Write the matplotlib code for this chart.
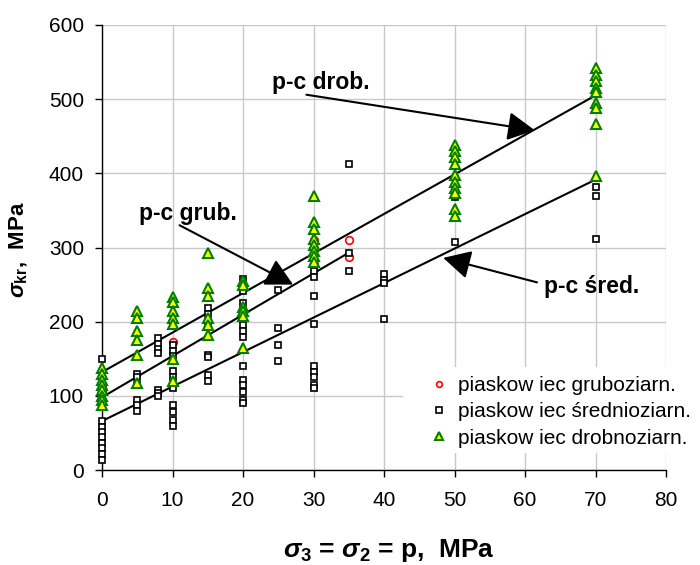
import matplotlib
matplotlib.use("Agg")
import matplotlib.pyplot as plt
from matplotlib.patches import Rectangle
import numpy as np

plt.rcParams['font.family'] = ['Liberation Sans', 'DejaVu Sans']
plt.rcParams['mathtext.fontset'] = 'custom'
plt.rcParams['mathtext.rm'] = 'Liberation Sans:bold'
plt.rcParams['mathtext.it'] = 'Liberation Sans:bold:italic'
plt.rcParams['mathtext.bf'] = 'Liberation Sans:bold'

# ---- data ----
grub_x = [0, 0, 10, 30, 30, 30, 35, 35]
grub_y = [105, 112, 172, 310, 300, 278, 310, 287]

sred_x = ([0] * 9 + [5] * 6 + [8] * 7 + [10] * 10 + [15] * 7 + [20] * 13 +
          [25] * 5 + [30] * 9 + [35] * 3 + [40] * 4 + [50] * 2 + [70] * 3)
sred_y = [149, 66, 58, 51, 44, 37, 29, 21, 14,
          130, 125, 115, 95, 87, 80,
          178, 170, 163, 158, 108, 104, 100,
          168, 160, 154, 133, 125, 110, 88, 78, 68, 60,
          218, 210, 200, 155, 152, 128, 120,
          257, 242, 225, 215, 195, 188, 180, 140, 122, 115, 105, 95, 90,
          265, 243, 192, 168, 147,
          268, 260, 234, 197, 140, 132, 125, 115, 110,
          412, 293, 268,
          264, 256, 252, 203,
          368, 307,
          381, 370, 312]

drob_x = ([0] * 8 + [5] * 6 + [10] * 7 + [15] * 6 + [20] * 6 + [30] * 8 +
          [50] * 10 + [70] * 9)
drob_y = [138, 130, 122, 115, 108, 100, 95, 87,
          215, 205, 188, 175, 155, 117,
          233, 226, 215, 205, 197, 150, 120,
          292, 245, 234, 205, 195, 182,
          255, 250, 220, 215, 208, 165,
          370, 335, 325, 312, 303, 295, 288, 280,
          438, 430, 422, 413, 398, 388, 380, 374, 352, 342,
          542, 532, 525, 515, 510, 495, 488, 467, 397]

legend_labels = ['piaskow iec gruboziarn.', 'piaskow iec średnioziarn.',
                 'piaskow iec drobnoziarn.']

# trend lines: drob, grub, sred
trend_names = ['p-c drob.', 'p-c grub.', 'p-c śred.']
trend_intercept = [132, 98, 66]
trend_slope = [5.33, 5.57, 4.65]
trend_xmax = [70, 35, 70]

# annotation text positions, arrow starts and tips (data units)
ann_text = [(31.1, 523), (12.2, 346), (69.4, 248)]
ann_start = [(29.0, 506), (11.0, 330), (61.7, 253)]
ann_tip = [(61.4, 458), (27.1, 250), (48.4, 286)]

xticks = [0, 10, 20, 30, 40, 50, 60, 70, 80]
yticks = [0, 100, 200, 300, 400, 500, 600]

# ---- figure ----
fig = plt.figure(figsize=(7.0, 5.65), dpi=100)
ax = fig.add_axes([102 / 700, 95 / 565, 564 / 700, 445 / 565])

ax.set_xlim(0, 80)
ax.set_ylim(0, 600)
ax.set_xticks(xticks)
ax.set_yticks(yticks)
ax.grid(True, color='#c8c8c8', lw=1.0, zorder=0)
ax.set_axisbelow(True)
for s in ['top', 'right']:
    ax.spines[s].set_visible(False)
for s in ['left', 'bottom']:
    ax.spines[s].set_color('black')
    ax.spines[s].set_linewidth(1.0)
ax.tick_params(axis='both', direction='out', length=5, width=1, colors='black',
               labelsize=15)
ax.tick_params(axis='x', pad=10)
ax.tick_params(axis='y', pad=8)

# white legend background box (hides grid lines behind the legend)
bg = Rectangle(((403 - 102) / 564, (470 - 453) / 445),
               (700 - 403) / 564, (453 - 367) / 445,
               transform=ax.transAxes, facecolor='white', edgecolor='none',
               zorder=1.5, clip_on=False)
ax.add_patch(bg)

# trend lines
for a, b, xm in zip(trend_intercept, trend_slope, trend_xmax):
    xs = np.array([0, xm])
    ax.plot(xs, a + b * xs, color='black', lw=1.5, zorder=3)

h1, = ax.plot(grub_x, grub_y, ls='none', marker='o', ms=5.5, mfc='none',
              mec='red', mew=1.2, zorder=4, clip_on=False)
h2, = ax.plot(sred_x, sred_y, ls='none', marker='s', ms=5.0, mfc='white',
              mec='black', mew=1.2, zorder=4, clip_on=False)
h3, = ax.plot(drob_x, drob_y, ls='none', marker='^', ms=7.0, mfc='#ffff00',
              mec='#008000', mew=1.5, zorder=5, clip_on=False)

# annotations
for name, tp, st, tip in zip(trend_names, ann_text, ann_start, ann_tip):
    ax.text(tp[0], tp[1], name, fontsize=16.5, fontweight='bold', ha='center',
            va='center', zorder=6)
    ax.annotate('', xy=tip, xytext=st,
                arrowprops=dict(arrowstyle='-|>,head_length=0.42,head_width=0.22',
                                color='black', lw=1.5,
                                mutation_scale=40, shrinkA=0, shrinkB=0),
                zorder=6)

leg = ax.legend([h1, h2, h3], legend_labels, loc='upper left',
                bbox_to_anchor=(0.572, 0.225), frameon=False, fontsize=15,
                markerscale=0.75, handlelength=0.8, handletextpad=0.5,
                labelspacing=0.35, borderpad=0.3, borderaxespad=0)
leg.set_zorder(10)

ax.set_xlabel(r'$\sigma_{\mathrm{3}}$ = $\sigma_{\mathrm{2}}$ = p,  MPa',
              fontsize=19, fontweight='bold')
ax.set_ylabel(r'$\sigma_{\mathrm{kr}}$,  MPa', fontsize=16, fontweight='bold')
ax.xaxis.set_label_coords(0.509, -0.150)
ax.yaxis.set_label_coords(-0.128, 0.494)

fig.savefig('out.png', dpi=100)
